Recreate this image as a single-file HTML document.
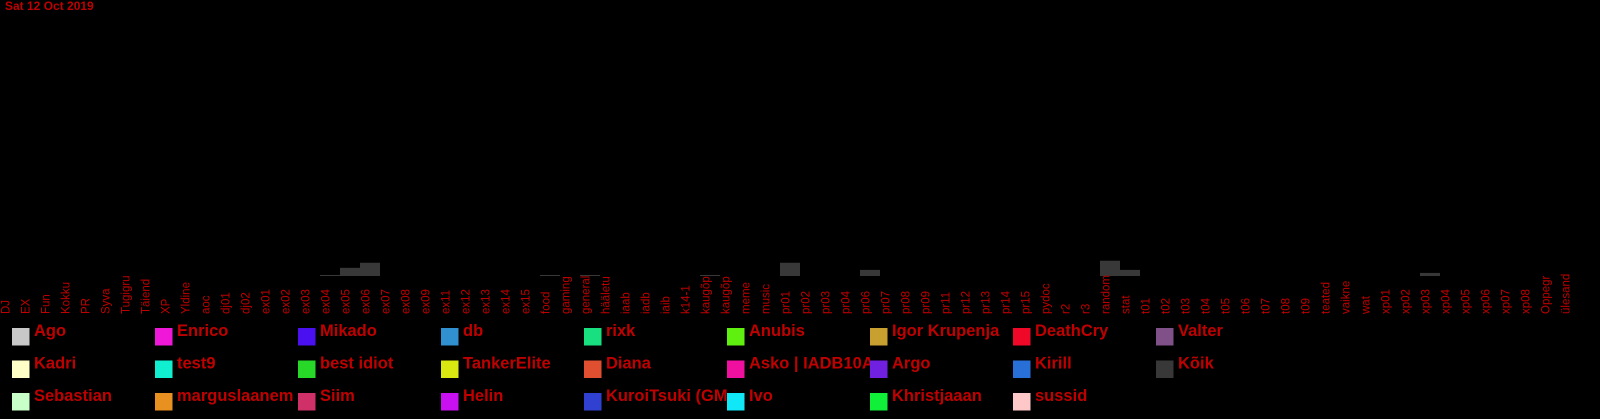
<!DOCTYPE html>
<html><head><meta charset="utf-8"><style>
html,body{margin:0;padding:0;background:#000;}
svg{display:block;font-family:"Liberation Sans",sans-serif;}
</style></head><body>
<svg id="chart" width="1600" height="419" viewBox="0 0 1600 419" xmlns="http://www.w3.org/2000/svg">
<rect width="1600" height="419" fill="#000"/>
<text x="5" y="10" fill="#c00000" font-size="12" font-weight="bold">Sat 12 Oct 2019</text>
<g id="bars"></g>
<g id="xlabels"></g>
<g id="legend"></g>
</svg>
<script>
const categories = ["DJ","EX","Fun","Kokku","PR","Syva","Tugigru","Täiend","XP","Yldine","aoc","dj01","dj02","ex01","ex02","ex03","ex04","ex05","ex06","ex07","ex08","ex09","ex11","ex12","ex13","ex14","ex15","food","gaming","general","hääletu","iaab","iadb","iaib","k14-1","kaugõp","kaugõp","meme","music","pr01","pr02","pr03","pr04","pr06","pr07","pr08","pr09","pr11","pr12","pr13","pr14","pr15","pydoc","r2","r3","random","stat","t01","t02","t03","t04","t05","t06","t07","t08","t09","teated","vaikne","wat","xp01","xp02","xp03","xp04","xp05","xp06","xp07","xp08","Oppegr","ülesand"];
const values = [0,0,0,0,0,0,0,0,0,0,0,0,0,0,0,0,1,8,13,0,0,0,0,0,0,0,0,1,0,1,0,0,0,0,0,1,0,0,0,13,0,0,0,6,0,0,0,0,0,0,0,0,0,0,0,15,6,0,0,0,0,0,0,0,0,0,0,0,0,0,0,3,0,0,0,0,0,0,0];
const seriesNames = ["Ago","Enrico","Mikado","db","rixk","Anubis","Igor Krupenja","DeathCry","Valter","Kadri","test9","best idiot","TankerElite","Diana","Asko | IADB10A","Argo","Kirill","Kõik","Sebastian","marguslaanem","Siim","Helin","KuroiTsuki (GM","Ivo","Khristjaaan","sussid"];
const seriesColors = ["#c8c8c8","#f018d8","#4a10f0","#3090d0","#18e080","#60f010","#c8a030","#f00828","#805088","#ffffc8","#10f0d0","#28d828","#d8e810","#e05030","#f010a0","#7020e0","#2870d8","#383838","#c8ffc8","#e89020","#d03068","#c810f0","#3040d0","#10e8f8","#10f038","#ffc8c8"];

const NS="http://www.w3.org/2000/svg";
const slot=20, baseY=276, pxPerUnit=1.02;
const xPos=i=>i*slot;
const yPos=v=>baseY-v*pxPerUnit;
const bars=document.getElementById('bars');
const xl=document.getElementById('xlabels');
categories.forEach((c,i)=>{
  const v=values[i];
  if(v>0){
    const r=document.createElementNS(NS,'rect');
    
    
    r.setAttribute('x',xPos(i));r.setAttribute('width',slot);
    r.setAttribute('y',yPos(v));r.setAttribute('height',baseY-yPos(v));
    r.setAttribute('fill','#383838');
    bars.appendChild(r);
  }
  const t=document.createElementNS(NS,'text');
  
  
  const lx=xPos(i)+9.5, ly=314;
  t.setAttribute('transform','translate('+lx+','+ly+') rotate(-90)');
  t.setAttribute('fill','#c00000');t.setAttribute('font-size','11.5');
  t.textContent=c;
  xl.appendChild(t);
});
const lg=document.getElementById('legend');
seriesNames.forEach((n,i)=>{
  const col=i%9, row=Math.floor(i/9);
  const x=12+col*143, y=328+row*32.5;
  const g=document.createElementNS(NS,'g');
  
  
  const s=document.createElementNS(NS,'svg');
  s.setAttribute('x',x+22);s.setAttribute('y',y-12);s.setAttribute('width',121);s.setAttribute('height',30);
  const t=document.createElementNS(NS,'text');
  t.setAttribute('x',0);t.setAttribute('y',20);t.setAttribute('fill','#c00000');
  t.setAttribute('font-size','16.5');t.setAttribute('font-weight','bold');
  t.textContent=n;
  s.appendChild(t);
  const r=document.createElementNS(NS,'rect');
  r.setAttribute('x',x);r.setAttribute('y',y);r.setAttribute('width',17.5);r.setAttribute('height',17.5);
  r.setAttribute('fill',seriesColors[i]);
  g.appendChild(s);g.appendChild(r);
  lg.appendChild(g);
});
</script>
</body></html>
